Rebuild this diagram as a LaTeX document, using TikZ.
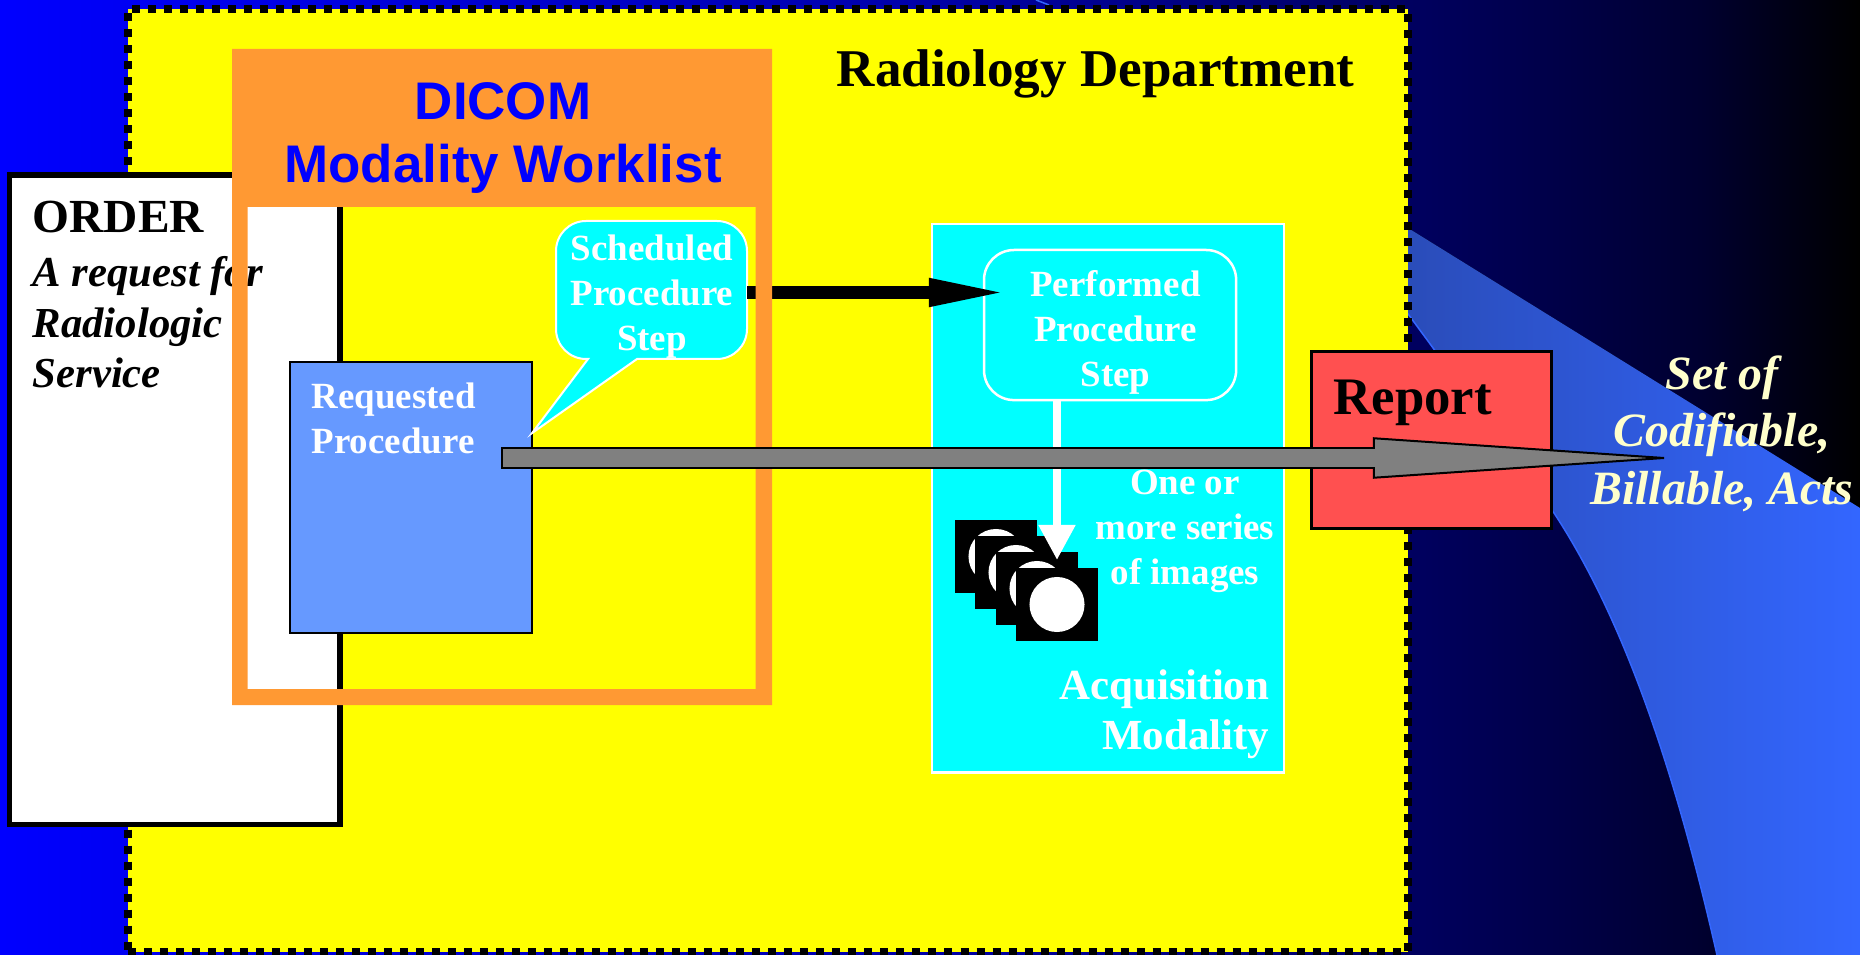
\documentclass[tikz,border=0pt]{standalone}
\usepackage{fontspec}
\setmainfont{Liberation Serif}
\setsansfont{Liberation Sans}
\usetikzlibrary{arrows.meta}
\definecolor{deptcol}{HTML}{FFFF00}
\definecolor{aquacol}{HTML}{00FFFF}
\definecolor{purecol}{HTML}{0000FF}
\definecolor{midcol}{HTML}{0000A8}
\definecolor{navycol}{HTML}{000060}
\definecolor{deepcol}{HTML}{000030}
\definecolor{framecol}{HTML}{FF9933}
\definecolor{reqcol}{HTML}{6699FF}
\definecolor{swooshcol}{HTML}{3366FF}
\definecolor{swooshdark}{HTML}{2A4CB8}
\definecolor{reportcol}{HTML}{FF5050}
\definecolor{creamcol}{HTML}{FFFFCC}
\definecolor{greycol}{HTML}{808080}
\pgfdeclarehorizontalshading{skyshade}{100bp}{color(0bp)=(purecol); color(25bp)=(purecol); color(50bp)=(midcol); color(62.9bp)=(navycol); color(70.7bp)=(deepcol); color(75bp)=(black); color(100bp)=(black)}
\tikzset{
    rectbox/.style={rectangle, inner sep=0pt, outer sep=0pt, anchor=north west},
    deptbox/.style={rectbox, draw=black, fill=deptcol, line width=.08cm, dash pattern=on .08cm off .08cm},
    orderbox/.style={rectbox, draw=black, fill=white, line width=.055cm},
    reqbox/.style={rectbox, draw=black, fill=reqcol, line width=.02cm},
    acqbox/.style={rectbox, draw=white, fill=aquacol, line width=.025cm},
    ppsbox/.style={rectbox, draw=white, line width=.025cm, rounded corners=.3cm},
    reportbox/.style={rectbox, draw=black, fill=reportcol, line width=.03cm},
    imgframe/.style={rectangle, fill=black, inner sep=0pt, outer sep=0pt, minimum width=.82cm, minimum height=.73cm},
    imgdisc/.style={circle, fill=white, inner sep=0pt, outer sep=0pt, minimum size=.55cm},
    smalltext/.style={text=white, inner sep=0pt, anchor=base, align=center, font=\bfseries\fontsize{10.5}{12.8}\selectfont},
    ordertext/.style={text=black, inner sep=0pt, anchor=base west, align=left, font=\bfseries\itshape\fontsize{12.15}{14.5}\selectfont},
    titletext/.style={text=black, inner sep=0pt, anchor=base west, font=\bfseries\fontsize{15.1}{18}\selectfont},
}
\begin{document}
\begin{tikzpicture}[x=0.01cm,y=-0.01cm]
	\useasboundingbox (0,0) rectangle (1860,955);
	\shade[shading=skyshade] (0,0) rectangle (1860,955);

	% swoosh behind the department
	\fill[left color=swooshdark, middle color=swooshcol, right color=swooshcol] (1400,223) -- (1860,508) -- (1860,955) -- (1717,955) .. controls (1667,735) and (1612,600) .. (1552,510) -- (1400,303) -- cycle;
	\draw[swooshcol, line width=.015cm] (1717,955) .. controls (1667,735) and (1612,600) .. (1552,510) -- (1400,303);
	\draw[swooshcol, line width=.015cm] (1036,0) -- (1049,5);

	\node[deptbox, minimum width=12.79cm, minimum height=9.42cm] (dept) at (128,9) {};
	\node[titletext] (depttitle) at (836,87) {Radiology Department};

	% order
	\node[orderbox, minimum width=3.305cm, minimum height=6.49cm] (order) at (9.5,175) {};
	\node[titletext, font=\bfseries\fontsize{13.5}{16}\selectfont] (ordertitle) at (32,233) {ORDER};
	\node[ordertext] (orderbody) at (32,388) {A request for\\Radiologic\\Service};

	% modality
	\node[acqbox, minimum width=3.52cm, minimum height=5.48cm] (acq) at (932,224) {};
	\node[ppsbox, minimum width=2.52cm, minimum height=1.5cm] (pps) at (984,250) {};
	\node[smalltext] (ppstext) at (1115.5,387) {Performed\\Procedure\\Step};
	\node[smalltext] (series) at (1185,585) {One or\\more series\\of images};
	\node[smalltext, anchor=base east, align=right, font=\bfseries\fontsize{12.2}{14.2}\selectfont] (acqtext) at (1270,749) {Acquisition\\Modality};

	% worklist contents
	\node[reqbox, minimum width=2.42cm, minimum height=2.71cm] (req) at (290,362) {};
	\node[smalltext, anchor=base west, align=left] (reqtext) at (311,454) {Requested\\Procedure};
	\draw[draw=white, fill=aquacol, line width=.02cm] (588,359) [rounded corners=.3cm] -- (556,359) -- (556,221) -- (747,221) -- (747,359) -- (690,359) [sharp corners] -- (637,359) -- (req.east |- 0,433) -- cycle;
	\node[smalltext] (sps) at (652,351) {Scheduled\\Procedure\\Step};
	\coordinate (spsout) at (747,292.5);

	\draw[line width=.13cm, -{Triangle[length=.82cm,width=.25cm]}] (spsout) -- (1011,292.5);

	\fill[framecol, even odd rule] (232,49) rectangle (772,705) (247.5,207) rectangle (755.5,689);
	\node[inner sep=0pt, anchor=base, align=center, text=purecol, font=\sffamily\bfseries\fontsize{15.05}{18}\selectfont] (worklist) at (503,183) {DICOM\\Modality Worklist};

	% images
	\node[imgframe] (img1) at (996,556.5) {};
	\node[imgdisc] (disc1) at (img1) {};
	\node[imgframe] (img2) at (1016,572.5) {};
	\node[imgdisc] (disc2) at (img2) {};
	\node[imgframe] (img3) at (1037,588.5) {};
	\node[imgdisc] (disc3) at (img3) {};
	\node[imgframe] (img4) at (1057,604.5) {};
	\node[imgdisc] (disc4) at (img4) {};
	\draw[white, line width=.08cm, shorten >=.08cm, -{Triangle[length=.35cm,width=.35cm]}] (pps.south -| img4) -- (img4.north);

	\node[reportbox, minimum width=2.395cm, minimum height=1.76cm] (report) at (1311.5,352) {};
	\node[titletext, font=\bfseries\fontsize{15}{18}\selectfont] (reporttext) at (1333,415) {Report};

	% grey arrow
	\coordinate (greystart) at (501,458);
	\coordinate (greyend) at (1679,458);
	\draw[line width=.22cm, -{Triangle[length=3.06cm,width=.41cm,line width=.02cm,fill=greycol]}] (greystart) -- (greyend);
	\draw[greycol, line width=.18cm, shorten <=.02cm, shorten >=3.03cm] (greystart) -- (greyend);

	\node[inner sep=0pt, anchor=base, align=center, text=creamcol, font=\bfseries\itshape\fontsize{13.6}{16.4}\selectfont] (acts) at (1722,504.5) {Set of\\Codifiable,\\Billable, Acts};
\end{tikzpicture}
\end{document}
